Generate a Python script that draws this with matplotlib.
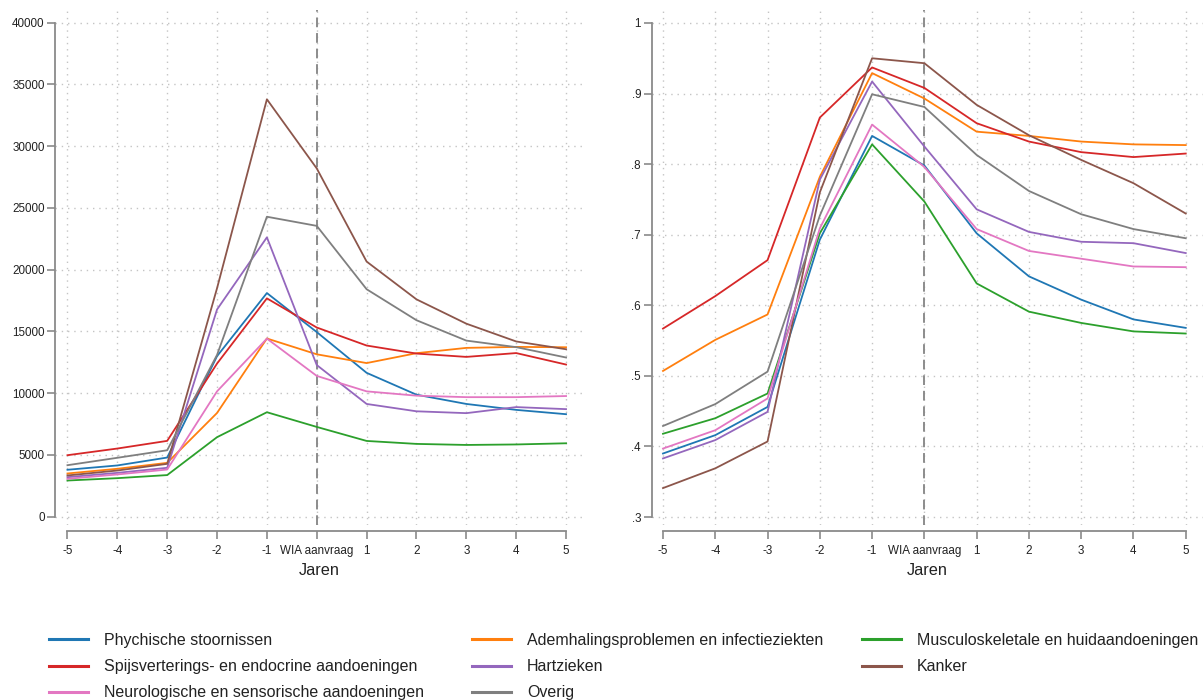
import matplotlib
matplotlib.use("Agg")
import matplotlib.pyplot as plt

plt.rcParams['font.family'] = ['Liberation Sans', 'DejaVu Sans']

jaren = [-5, -4, -3, -2, -1, 0, 1, 2, 3, 4, 5]
x_labels = ["-5", "-4", "-3", "-2", "-1", "WIA aanvraag", "1", "2", "3", "4", "5"]

categories = [
    "Phychische stoornissen",
    "Ademhalingsproblemen en infectieziekten",
    "Musculoskeletale en huidaandoeningen",
    "Spijsverterings- en endocrine aandoeningen",
    "Hartzieken",
    "Kanker",
    "Neurologische en sensorische aandoeningen",
    "Overig",
]
colors = ["#1f77b4", "#ff7f0e", "#2ca02c", "#d62728", "#9467bd", "#8c564b", "#e377c2", "#7f7f7f"]

# Left panel (amounts)
left_phychisch = [3800, 4150, 4790, 13000, 18110, 14950, 11650, 9880, 9130, 8650, 8300]
left_ademhaling = [3500, 3880, 4360, 8400, 14430, 13150, 12440, 13240, 13670, 13750, 13720]
left_musculo = [2930, 3120, 3370, 6440, 8460, 7270, 6135, 5895, 5810, 5850, 5945]
left_spijsvertering = [4980, 5520, 6140, 12400, 17680, 15320, 13860, 13210, 12940, 13250, 12320]
left_hart = [3200, 3550, 3960, 16780, 22620, 12280, 9130, 8535, 8385, 8875, 8710]
left_kanker = [3340, 3740, 4280, 18500, 33800, 28200, 20660, 17600, 15630, 14190, 13560]
left_neuro = [3070, 3420, 3820, 10150, 14420, 11400, 10150, 9800, 9680, 9680, 9770]
left_overig = [4170, 4770, 5380, 13100, 24290, 23550, 18420, 15910, 14260, 13730, 12890]

# Right panel (shares)
right_phychisch = [0.390, 0.416, 0.456, 0.693, 0.840, 0.798, 0.702, 0.641, 0.608, 0.580, 0.568]
right_ademhaling = [0.507, 0.551, 0.587, 0.782, 0.929, 0.893, 0.846, 0.840, 0.832, 0.828, 0.827]
right_musculo = [0.418, 0.440, 0.475, 0.702, 0.828, 0.747, 0.631, 0.591, 0.575, 0.563, 0.560]
right_spijsvertering = [0.567, 0.613, 0.664, 0.866, 0.937, 0.908, 0.858, 0.832, 0.817, 0.810, 0.815]
right_hart = [0.383, 0.409, 0.449, 0.778, 0.917, 0.825, 0.736, 0.704, 0.690, 0.688, 0.674]
right_kanker = [0.341, 0.369, 0.407, 0.760, 0.950, 0.943, 0.884, 0.841, 0.806, 0.773, 0.730]
right_neuro = [0.397, 0.423, 0.468, 0.709, 0.856, 0.796, 0.708, 0.677, 0.666, 0.655, 0.654]
right_overig = [0.429, 0.460, 0.506, 0.727, 0.899, 0.881, 0.813, 0.762, 0.729, 0.708, 0.695]

left_ticks = [0, 5000, 10000, 15000, 20000, 25000, 30000, 35000, 40000]
left_ticklabels = ["0", "5000", "10000", "15000", "20000", "25000", "30000", "35000", "40000"]
right_ticks = [0.3, 0.4, 0.5, 0.6, 0.7, 0.8, 0.9, 1.0]
right_ticklabels = [".3", ".4", ".5", ".6", ".7", ".8", ".9", "1"]

left_series = [left_phychisch, left_ademhaling, left_musculo, left_spijsvertering,
               left_hart, left_kanker, left_neuro, left_overig]
right_series = [right_phychisch, right_ademhaling, right_musculo, right_spijsvertering,
                right_hart, right_kanker, right_neuro, right_overig]

W, H = 1204, 700
fig = plt.figure(figsize=(W / 100, H / 100), dpi=100)

ax1 = fig.add_axes([55 / W, 1 - 525 / H, 528 / W, 515 / H])
ax2 = fig.add_axes([651.5 / W, 1 - 525 / H, 551.5 / W, 515 / H])

axis_col = "#8a8a8a"
grid_col = "#c4c4c4"
text_col = "#222222"


def style(ax, xlim, ylim, yticks, yticklabels):
    ax.set_xlim(*xlim)
    ax.set_ylim(*ylim)
    ax.set_xticks(jaren)
    ax.set_xticklabels(x_labels)
    ax.set_yticks(yticks)
    ax.set_yticklabels(yticklabels)
    ax.grid(True, which="major", color=grid_col, linestyle=(0, (1, 3.5)), linewidth=1.0)
    ax.set_axisbelow(True)
    for s in ["top", "right"]:
        ax.spines[s].set_visible(False)
    ax.spines["left"].set_bounds(yticks[0], yticks[-1])
    ax.spines["left"].set_color(axis_col)
    ax.spines["left"].set_linewidth(1.3)
    ax.spines["bottom"].set_bounds(-5, 5)
    ax.spines["bottom"].set_position(("outward", 4.5))
    ax.spines["bottom"].set_color(axis_col)
    ax.spines["bottom"].set_linewidth(1.3)
    ax.tick_params(axis="both", colors=axis_col, labelcolor=text_col, labelsize=8.4,
                   length=5.5, width=1.2)
    ax.tick_params(axis="x", pad=4.5)
    ax.tick_params(axis="y", pad=2)
    ax.axvline(0, color="#8c8c8c", linestyle=(0, (5, 3)), linewidth=1.4, zorder=1.5)
    ax.set_xlabel("Jaren", fontsize=11.7, color=text_col, labelpad=4)


style(ax1, (-5.25, 5.34), (-672, 41030), left_ticks, left_ticklabels)
style(ax2, (-5.22, 5.33), (0.2887, 1.0184), right_ticks, right_ticklabels)

handles = []
for name, col, ly, ry in zip(categories, colors, left_series, right_series):
    h, = ax1.plot(jaren, ly, color=col, linewidth=1.3, label=name, zorder=2)
    ax2.plot(jaren, ry, color=col, linewidth=1.3, zorder=2)
    handles.append(h)

# Legend in three columns (Stata-like row order)
col_groups = [[0, 3, 6], [1, 4, 7], [2, 5]]
col_x = [48.5, 472, 862]
for grp, cx in zip(col_groups, col_x):
    leg = fig.legend([handles[i] for i in grp], [categories[i] for i in grp],
                     loc="upper left", bbox_to_anchor=(cx / W, 1 - 633 / H),
                     frameon=False, fontsize=11.5, handlelength=2.45, handletextpad=1.0,
                     labelspacing=0.7, borderpad=0, borderaxespad=0)
    for t in leg.get_texts():
        t.set_color(text_col)
    for l in leg.get_lines():
        l.set_linewidth(2.2)

fig.savefig("out.png", dpi=100)
